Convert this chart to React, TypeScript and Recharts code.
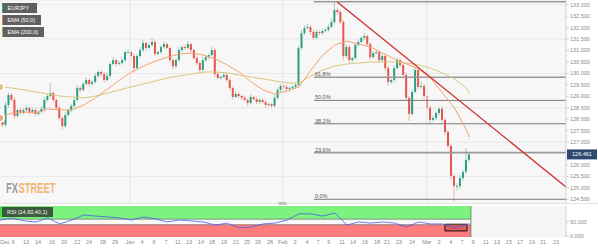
import React from 'react'
import {
  ComposedChart,
  Bar,
  Line,
  XAxis,
  YAxis,
  CartesianGrid,
  ReferenceLine,
  ReferenceArea,
} from 'recharts'

// EUR/JPY 4H candles (open = previous close)
const firstOpen = 128.1
const closes = [
  127.97, 127.75, 128.62, 129.06, 128.84, 128.14, 128.4, 128.27, 128.4, 128.49,
  128.32, 128.4, 128.23, 128.32, 128.45, 128.84, 129.01, 129.14, 128.84, 128.49,
  128.05, 127.7, 128.18, 128.4, 128.58, 128.84, 129.36, 129.28, 129.54, 129.71,
  129.54, 129.62, 129.89, 130.06, 129.97, 129.71, 129.89, 130.41, 130.58, 130.41,
  130.45, 130.58, 130.93, 130.93, 130.76, 130.23, 130.76, 131.02, 131.33, 131.11,
  131.24, 131.37, 130.85, 130.93, 131.15, 131.28, 131.11, 130.58, 130.32, 130.58,
  131.02, 131.15, 131.11, 131.28, 131.02, 130.67, 130.45, 130.15, 130.58, 130.71,
  130.8, 131.02, 129.97, 129.8, 129.84, 129.93, 129.71, 129.36, 128.97, 129.1,
  129.01, 128.93, 128.84, 128.71, 128.97, 128.88, 128.75, 128.84, 128.75, 128.62,
  128.66, 128.58, 128.93, 129.28, 129.45, 129.41, 129.32, 129.36, 129.41, 129.49,
  131.11, 131.76, 131.98, 132.03, 131.81, 131.55, 131.81, 131.76, 131.85, 131.9,
  132.03, 132.24, 132.77, 132.68, 132.24, 130.76, 131.15, 130.58, 130.67, 131.24,
  131.37, 131.55, 131.63, 131.28, 130.71, 130.89, 130.93, 130.58, 130.76, 130.23,
  129.62, 129.71, 130.23, 130.58, 130.36, 129.93, 128.93, 128.23, 129.19, 130.15,
  129.41, 129.45, 129.01, 128.49, 127.97, 128.05, 128.27, 128.45, 127.97, 127.44,
  126.83, 125.52, 125.08, 125.08, 125.43, 125.7, 126.22, 126.46,
]
const upperWicks = [
  0.1, 0.12, 0.15, 0.1, 0.08, 0.12, 0.06, 0.1, 0.08, 0.12,
  0.06, 0.1, 0.08, 0.06, 0.1, 0.12, 0.1, 0.45, 0.08, 0.06,
  0.1, 0.08, 0.12, 0.06, 0.1, 0.08, 0.14, 0.1, 0.08, 0.12,
  0.06, 0.1, 0.12, 0.08, 0.06, 0.1, 0.12, 0.08, 0.12, 0.06,
  0.1, 0.14, 0.08, 0.1, 0.06, 0.1, 0.08, 0.12, 0.14, 0.06,
  0.1, 0.18, 0.08, 0.06, 0.1, 0.12, 0.08, 0.06, 0.1, 0.08,
  0.12, 0.06, 0.1, 0.14, 0.08, 0.06, 0.1, 0.08, 0.12, 0.1,
  0.06, 0.15, 0.08, 0.1, 0.06, 0.12, 0.08, 0.1, 0.06, 0.12,
  0.08, 0.06, 0.1, 0.08, 0.12, 0.06, 0.1, 0.08, 0.06, 0.1,
  0.08, 0.06, 0.12, 0.1, 0.08, 0.06, 0.1, 0.08, 0.06, 0.12,
  0.1, 0.15, 0.12, 0.14, 0.08, 0.1, 0.12, 0.06, 0.1, 0.08,
  0.12, 0.14, 0.35, 0.1, 0.08, 0.1, 0.12, 0.08, 0.06, 0.1,
  0.12, 0.08, 0.14, 0.06, 0.1, 0.08, 0.12, 0.06, 0.1, 0.08,
  0.1, 0.06, 0.12, 0.1, 0.08, 0.06, 0.1, 0.08, 0.12, 0.15,
  0.08, 0.22, 0.1, 0.06, 0.08, 0.1, 0.06, 0.08, 0.1, 0.06,
  0.08, 0.1, 0.06, 0.12, 0.14, 0.1, 0.52, 0.1,
]
const lowerWicks = [
  0.3, 0.1, 0.08, 0.12, 0.06, 0.14, 0.08, 0.1, 0.06, 0.08,
  0.12, 0.06, 0.1, 0.08, 0.06, 0.1, 0.08, 0.06, 0.1, 0.08,
  0.12, 0.15, 0.08, 0.06, 0.1, 0.08, 0.06, 0.12, 0.08, 0.06,
  0.1, 0.08, 0.06, 0.1, 0.12, 0.08, 0.06, 0.1, 0.08, 0.12,
  0.06, 0.08, 0.1, 0.06, 0.08, 0.2, 0.06, 0.08, 0.1, 0.12,
  0.06, 0.08, 0.12, 0.06, 0.1, 0.08, 0.06, 0.12, 0.15, 0.08,
  0.06, 0.1, 0.08, 0.06, 0.12, 0.08, 0.1, 0.14, 0.06, 0.08,
  0.1, 0.06, 0.12, 0.08, 0.1, 0.06, 0.08, 0.12, 0.1, 0.06,
  0.08, 0.1, 0.06, 0.12, 0.08, 0.06, 0.1, 0.08, 0.06, 0.12,
  0.08, 0.1, 0.06, 0.08, 0.1, 0.06, 0.08, 0.12, 0.06, 0.08,
  0.06, 0.08, 0.1, 0.06, 0.12, 0.08, 0.06, 0.1, 0.08, 0.06,
  0.08, 0.06, 0.1, 0.12, 0.08, 0.2, 0.1, 0.14, 0.08, 0.06,
  0.08, 0.06, 0.1, 0.08, 0.12, 0.06, 0.08, 0.1, 0.06, 0.12,
  0.15, 0.08, 0.1, 0.06, 0.08, 0.1, 0.12, 0.3, 0.08, 0.06,
  0.1, 0.08, 0.12, 0.1, 0.14, 0.08, 0.1, 0.12, 0.1, 0.15,
  0.12, 0.18, 0.68, 0.2, 0.15, 0.12, 0.1, 0.12,
]

// indicators, sampled every 4th candle (last one on the final candle)
const sampleStep = 4
const ema50 = [
  128.05, 128.27, 128.31, 128.27, 128.45, 128.4, 128.4, 128.62, 128.93, 129.32,
  129.71, 130.06, 130.32, 130.54, 130.71, 130.85, 130.89, 130.8, 130.63, 130.37,
  130.06, 129.62, 129.28, 129.1, 129.23, 129.41, 130.15, 130.8, 131.24, 131.41,
  131.28, 131.15, 130.89, 130.63, 130.41, 130.19, 129.8, 129.14, 128.49, 127.53, 127.22,
]
const ema200 = [
  129.41, 129.36, 129.28, 129.19, 129.1, 129.01, 128.97, 128.93, 129.01, 129.14,
  129.28, 129.41, 129.54, 129.67, 129.8, 129.89, 129.97, 130.06, 130.06, 130.02,
  129.93, 129.84, 129.76, 129.67, 129.58, 129.58, 129.89, 130.15, 130.32, 130.41,
  130.45, 130.5, 130.5, 130.5, 130.45, 130.37, 130.23, 130.02, 129.76, 129.36, 129.14,
]
const rsi = [
  57, 64, 54, 50, 64, 43, 57, 75, 71, 68,
  64, 57, 68, 61, 50, 57, 54, 50, 39, 46,
  29, 32, 43, 46, 57, 79, 79, 71, 82, 39,
  50, 46, 50, 46, 32, 50, 43, 43, 29, 39, 46,
]

const tickIdx = [
  2.5, 8.7, 12.7, 17.4, 21.4, 25.8, 29.8, 34.4, 38.5, 43.5, 47.5, 51.5, 55.5, 59.5,
  63.2, 67.2, 70.9, 74.9, 78.9, 82.6, 86.3, 90.3, 94.6, 98.7, 102.7, 106.4, 110,
  114.4, 118.1, 122.1, 126.1, 129.4, 133.4, 137.8, 142.8, 146.8, 150.8, 154.5,
  158.2, 162.5, 166.2, 170.2, 173.9, 177.9, 181.6, 186,
]
const tickLabels = [
  'Dec 9', '13', '14', '16', '20', '22', '24', '28', '29', 'Jan', '4', '6', '7', '11',
  '13', '14', '18', '19', '21', '25', '26', '28', 'Feb', '2', '4', '7', '9',
  '11', '14', '16', '18', '21', '23', '24', 'Mar', '2', '4', '7',
  '9', '11', '13', '15', '17', '19', '21', '23',
]
const monthIdx = [43.5, 94.6, 142.8]
// 126.500 sits under the last-price tag, so it is not shown
const priceTicks = [124.5, 125, 125.5, 126, 127, 127.5, 128, 128.5, 129, 129.5, 130, 130.5, 131, 131.5, 132, 132.5, 133]

const fibValues = [124.5, 126.54, 127.8, 128.82, 129.83, 133.13]
const fibLabels = ['0.0%', '23.6%', '38.2%', '50.0%', '61.8%', '']
const fibStart = 105
const trendFrom = { x: 112.8, y: 133.12 }
const trendTo = { x: 189.3, y: 125.04 }
const lastPrice = 126.461
const rsiBox = { x1: 148.8, x2: 156.2, y1: 18, y2: 42 }

const X_MAX = 189.3
const lastIdx = closes.length - 1

const rows: any[] = closes.map((c, i) => {
  const o = i === 0 ? firstOpen : closes[i - 1]
  const high = Math.max(o, c) + upperWicks[i]
  const low = Math.min(o, c) - lowerWicks[i]
  return { i, open: o, close: c, high, low, range: [low, high] }
})
ema50.forEach((v, k) => {
  const r = rows[Math.min(k * sampleStep, lastIdx)]
  r.ema50 = v
  r.ema200 = ema200[k]
  r.rsi = rsi[k]
})

const GREEN = '#2f9d7e'
const RED = '#e5574b'

const Candle = (props: any) => {
  const { x, y, width, height, payload } = props
  if (!payload || !height) return null
  const { open, close, high, low } = payload
  const color = close >= open ? GREEN : RED
  const k = height / (high - low)
  const top = y + (high - Math.max(open, close)) * k
  const h = Math.max(Math.abs(close - open) * k, 0.8)
  const cx = x + width / 2
  return (
    <g>
      <line x1={cx} x2={cx} y1={y} y2={y + height} stroke={color} strokeWidth={0.8} opacity={0.55} />
      <rect x={x} y={top} width={width} height={h} fill={color} />
    </g>
  )
}

const PriceTag = (props: any) => {
  const { viewBox } = props
  if (!viewBox) return null
  const x = viewBox.x + viewBox.width + 1
  const y = viewBox.y
  return (
    <g>
      <rect x={x} y={y - 5} width={30} height={10} fill="#2c4a70" />
      <text x={x + 15} y={y + 2} fill="#fff" fontSize={5.5} textAnchor="middle">
        {lastPrice.toFixed(3)}
      </text>
    </g>
  )
}

const tagBox = (left: number, top: number, width: number, bar: string, bg: string): React.CSSProperties => ({
  position: 'absolute',
  left,
  top,
  width,
  height: 10,
  background: bg,
  borderLeft: `1.5px solid ${bar}`,
  color: '#fff',
  fontSize: 5.5,
  lineHeight: '10px',
  paddingLeft: 5,
  boxSizing: 'border-box',
  whiteSpace: 'nowrap',
})

export default function App() {
  return (
    <div
      style={{
        position: 'absolute',
        left: 0,
        top: 0,
        width: 598,
        height: 249,
        background: '#fff',
        fontFamily: '"Liberation Sans", Arial, sans-serif',
        overflow: 'hidden',
      }}
    >
      <ComposedChart width={598} height={204} data={rows} margin={{ top: 0, right: 0, left: 0, bottom: 0 }}>
        <CartesianGrid vertical={false} stroke="#e9e9e9" fill="#f7f7f7" />
        <XAxis type="number" dataKey="i" domain={[0, X_MAX]} hide allowDataOverflow />
        <YAxis
          orientation="right"
          width={32}
          domain={[124.295, 133.205]}
          ticks={priceTicks}
          allowDataOverflow
          tickFormatter={(v) => Number(v).toFixed(3)}
          tick={{ fontSize: 5.5, fill: '#8a8a8a' }}
          tickSize={3}
          tickMargin={1}
          stroke="#cfcfcf"
        />
        {monthIdx.map((m) => (
          <ReferenceLine key={m} x={m} stroke="#e3e3e3" />
        ))}
        {fibValues.map((v, k) => (
          <ReferenceLine
            key={v}
            segment={[{ x: fibStart, y: v }, { x: X_MAX, y: v }]}
            stroke={k === 1 || k === 4 || k === 5 ? '#9a9a9a' : '#7a7a7a'}
            strokeWidth={k === 1 || k === 4 || k === 5 ? 1.6 : 1}
            label={{ value: fibLabels[k], position: 'insideBottomLeft', offset: 1, fontSize: 5.5, fill: '#555' }}
          />
        ))}
        <Bar dataKey="range" barSize={2} shape={Candle} isAnimationActive={false} />
        <Line dataKey="ema200" stroke="#d9c97c" strokeWidth={1} dot={false} connectNulls isAnimationActive={false} />
        <Line dataKey="ema50" stroke="#f4a36e" strokeWidth={1} dot={false} connectNulls isAnimationActive={false} />
        <ReferenceLine segment={[trendFrom, trendTo]} stroke="#d22b2b" strokeWidth={1.3} />
        <ReferenceLine y={lastPrice} stroke="none" label={<PriceTag />} />
      </ComposedChart>

      <div style={{ position: 'absolute', left: 0, top: 203, width: 598, height: 1, background: '#e2e2e2' }} />
      <div style={{ position: 'absolute', left: 278, top: 202, width: 9, height: 3, borderRadius: 1.5, background: '#c4c4c4' }} />

      <div style={{ position: 'absolute', left: 0, top: 204 }}>
        <ComposedChart width={598} height={45} data={rows} margin={{ top: 2, right: 0, left: 0, bottom: 0 }}>
          <CartesianGrid horizontal={false} vertical={false} fill="#f5f5f5" />
          <XAxis
            type="number"
            dataKey="i"
            domain={[0, X_MAX]}
            allowDataOverflow
            ticks={tickIdx}
            interval={0}
            height={12}
            tickFormatter={(v) => tickLabels[tickIdx.indexOf(v)] ?? ''}
            tick={{ fontSize: 5.5, fill: '#8a8a8a' }}
            tickSize={0}
            tickMargin={3}
            axisLine={false}
          />
          <YAxis
            orientation="right"
            width={32}
            domain={[-3.6, 107]}
            ticks={[0, 50]}
            allowDataOverflow
            tickFormatter={(v) => Number(v).toFixed(3)}
            tick={{ fontSize: 5.5, fill: '#8a8a8a' }}
            tickSize={3}
            tickMargin={1}
            stroke="#cfcfcf"
          />
          <ReferenceArea x1={0} x2={lastIdx + 0.5} y1={60} y2={107} fill="#7ef27e" fillOpacity={1} stroke="none" />
          <ReferenceArea x1={0} x2={lastIdx + 0.5} y1={40} y2={60} fill="#f9f9f9" fillOpacity={1} stroke="none" />
          <ReferenceArea x1={0} x2={lastIdx + 0.5} y1={-3.6} y2={40} fill="#ff7c7c" fillOpacity={1} stroke="none" />
          <ReferenceLine segment={[{ x: 0, y: 60 }, { x: lastIdx + 0.5, y: 60 }]} stroke="#5f6f5f" strokeWidth={0.7} />
          <ReferenceLine segment={[{ x: 0, y: 40 }, { x: lastIdx + 0.5, y: 40 }]} stroke="#6f5f5f" strokeWidth={0.7} />
          <ReferenceLine x={lastIdx + 0.5} stroke="#4f7f4f" strokeWidth={0.8} />
          <ReferenceArea
            x1={rsiBox.x1}
            x2={rsiBox.x2}
            y1={rsiBox.y1}
            y2={rsiBox.y2}
            fill="#c94040"
            fillOpacity={0.55}
            stroke="#111"
            strokeWidth={1}
          />
          <Line dataKey="rsi" stroke="#4a5cf0" strokeWidth={0.8} dot={false} connectNulls isAnimationActive={false} />
        </ComposedChart>
      </div>

      <div style={tagBox(1.5, 3, 35, '#2aa38a', '#606060')}>EURJPY</div>
      <div style={tagBox(1.5, 14.5, 39, '#f07a30', '#606060')}>EMA (50,0)</div>
      <div style={tagBox(1.5, 26.5, 42, '#b8a636', '#606060')}>EMA (200,0)</div>
      <div style={{ ...tagBox(0, 207, 53, '#3ee83e', '#3c5a3c'), borderLeftWidth: 2 }}>RSI (14,60,40,1)</div>

      {/* watermark, squeezed horizontally */}
      <svg style={{ position: 'absolute', left: 0, top: 0, pointerEvents: 'none' }} width={598} height={249}>
        <g transform="translate(6,193) scale(0.625,1)" fontSize={15} fontWeight="bold">
          <text x={0} y={0} fill="#9b9b9b">FX</text>
          <text x={20} y={0} fill="#f2b776">STREET</text>
        </g>
      </svg>
    </div>
  )
}
